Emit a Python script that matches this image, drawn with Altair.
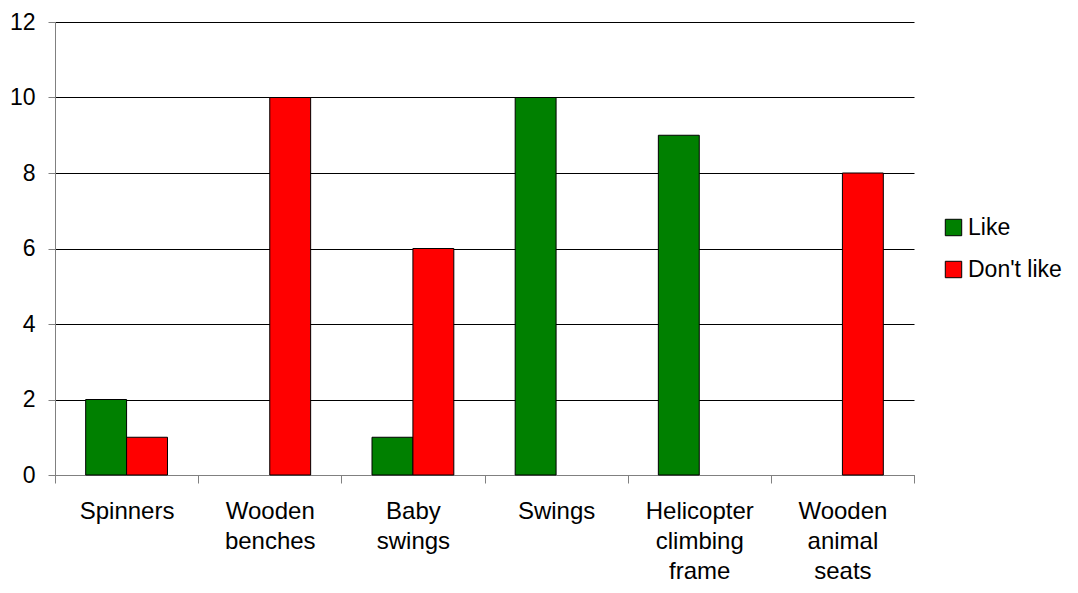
import altair as alt
import pandas as pd

categories = ["Spinners", "Wooden benches", "Baby swings", "Swings",
              "Helicopter climbing frame", "Wooden animal seats"]
series = ["Like", "Don't like"]
like_values = [2, None, 1, 10, 9, None]
dislike_values = [1, 10, 6, None, None, 8]
colors = ["#008000", "#FF0000"]

rows = []
for c, l, d in zip(categories, like_values, dislike_values):
    rows.append({"Category": c, "Series": "Like", "Value": l})
    rows.append({"Category": c, "Series": "Don't like", "Value": d})
df = pd.DataFrame(rows)

font = "Liberation Sans"

chart = alt.Chart(df).transform_filter(
    "datum.Value != null"
).mark_bar(stroke="black", strokeWidth=1).encode(
    x=alt.X("Category:N", sort=categories,
            scale=alt.Scale(paddingInner=0, paddingOuter=0),
            axis=alt.Axis(title=None, labelAngle=0, tickBand="extent",
                          labelExpr="split(datum.label, ' ')",
                          labelFontSize=24, labelLineHeight=30,
                          labelFont=font, labelColor="black",
                          labelPadding=16, tickSize=8, tickColor="#808080",
                          domainColor="#808080", grid=False, labelLimit=300)),
    xOffset=alt.XOffset("Series:N", sort=series,
                        scale=alt.Scale(domain=series, paddingInner=0, paddingOuter=0.75)),
    y=alt.Y("Value:Q",
            scale=alt.Scale(domain=[0, 12], nice=False),
            axis=alt.Axis(title=None, values=[0, 2, 4, 6, 8, 10, 12],
                          labelFontSize=23, labelFont=font, labelColor="black",
                          labelPadding=13, tickSize=7, tickColor="#808080",
                          domainColor="#808080", gridColor="black",
                          gridWidth=1, gridOpacity=1)),
    color=alt.Color("Series:N", sort=series,
                    scale=alt.Scale(domain=series, range=colors),
                    legend=alt.Legend(title=None, orient="none",
                                      legendX=887, legendY=194,
                                      symbolType="square", symbolSize=270,
                                      symbolStrokeColor="black", symbolStrokeWidth=1,
                                      symbolOpacity=1,
                                      labelFontSize=23, labelFont=font,
                                      labelColor="black", labelOffset=3,
                                      rowPadding=18)),
).properties(
    width=859, height=453,
    background="white",
    autosize=alt.AutoSizeParams(type="none"),
    padding={"left": 47, "top": 14, "right": 156, "bottom": 110},
).configure_view(stroke="transparent")

chart.save("out.html", embed_options={"renderer": "svg", "actions": False})
